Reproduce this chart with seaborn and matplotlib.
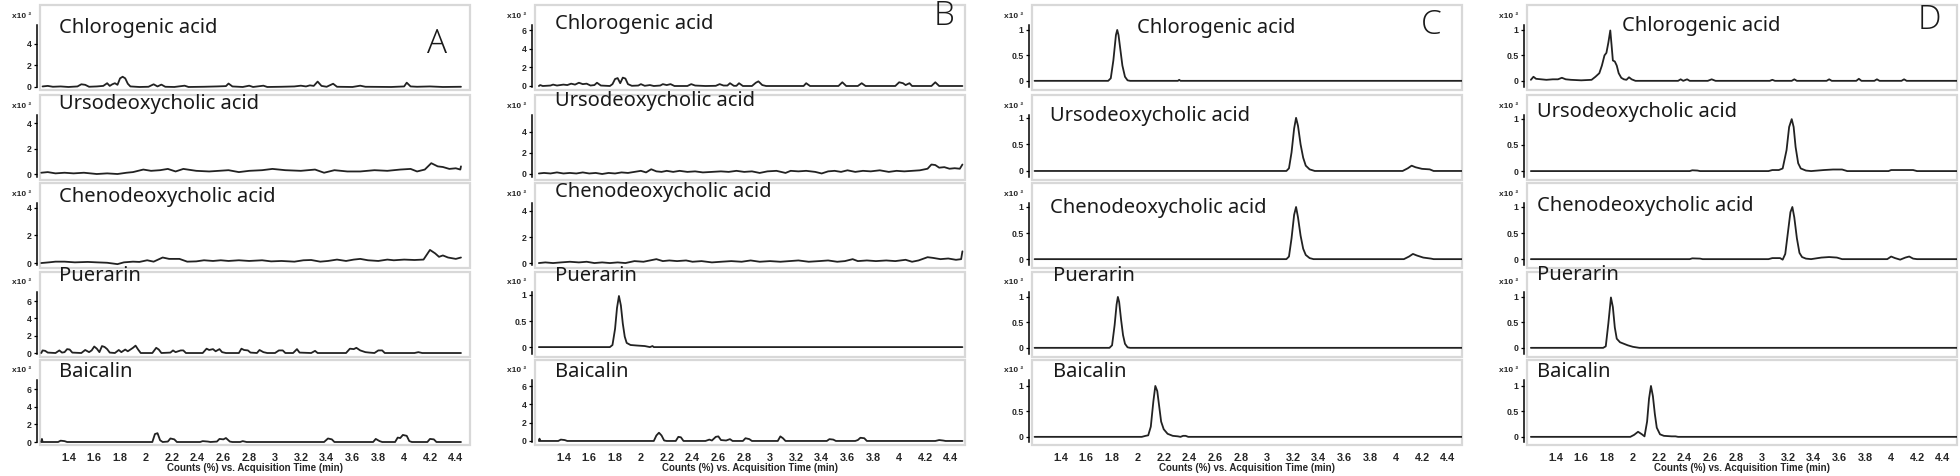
import numpy as np
import matplotlib
matplotlib.use("Agg")
import matplotlib.pyplot as plt
from matplotlib.patches import Rectangle
import seaborn as sns

# ---- data: (time in min, counts x10^2) ----
compounds = ["Chlorogenic acid", "Ursodeoxycholic acid", "Chenodeoxycholic acid", "Puerarin", "Baicalin"]
panel_letters = ["A", "B", "C", "D"]
x_ticks = [1.4, 1.6, 1.8, 2.0, 2.2, 2.4, 2.6, 2.8, 3.0, 3.2, 3.4, 3.6, 3.8, 4.0, 4.2, 4.4]

a_chloro = [(1.20,0.05),(1.24,0.1),(1.28,0.02),(1.34,0.05),(1.40,0.0),(1.47,0.05),(1.50,0.25),(1.53,0.2),(1.56,0.02),
            (1.62,0.05),(1.67,0.1),(1.70,0.35),(1.72,0.1),(1.74,0.25),(1.76,0.35),(1.78,0.2),(1.80,0.8),(1.82,0.95),
            (1.84,0.8),(1.86,0.3),(1.88,0.05),(1.95,0.0),(2.02,0.02),(2.06,0.25),(2.09,0.05),(2.12,0.22),(2.15,0.02),
            (2.22,0.0),(2.30,0.12),(2.33,0.0),(2.45,0.02),(2.55,0.05),(2.62,0.08),(2.64,0.32),(2.67,0.05),(2.75,0.0),
            (2.80,0.12),(2.83,0.0),(2.91,0.12),(2.94,0.0),(3.05,0.02),(3.15,0.05),(3.20,0.12),(3.24,0.05),(3.27,0.15),
            (3.30,0.1),(3.33,0.5),(3.36,0.1),(3.40,0.02),(3.45,0.3),(3.48,0.02),(3.60,0.0),(3.66,0.12),(3.70,0.02),
            (3.90,0.0),(4.00,0.05),(4.02,0.4),(4.05,0.05),(4.10,0.02),(4.20,0.05),(4.30,0.0),(4.44,0.02)]
a_urso = [(1.19,0.1),(1.24,0.15),(1.30,0.05),(1.37,0.1),(1.44,0.05),(1.52,0.1),(1.62,0.0),(1.70,0.05),(1.78,0.0),
          (1.85,0.1),(1.90,0.15),(1.98,0.35),(2.04,0.25),(2.11,0.3),(2.17,0.4),(2.23,0.2),(2.29,0.4),(2.39,0.25),
          (2.49,0.2),(2.64,0.3),(2.72,0.15),(2.80,0.25),(2.90,0.3),(2.98,0.4),(3.08,0.3),(3.20,0.25),(3.31,0.35),
          (3.38,0.1),(3.46,0.3),(3.56,0.2),(3.66,0.2),(3.77,0.3),(3.87,0.25),(3.97,0.35),(4.05,0.4),(4.10,0.2),
          (4.16,0.35),(4.21,0.85),(4.26,0.6),(4.30,0.55),(4.35,0.4),(4.40,0.45),(4.435,0.35),(4.44,0.6)]
a_cheno = [(1.19,0.0),(1.25,0.05),(1.30,0.1),(1.37,0.1),(1.45,0.05),(1.55,0.08),(1.62,0.05),(1.70,0.02),(1.78,-0.08),
           (1.83,0.05),(1.90,0.1),(1.95,0.08),(2.01,0.2),(2.06,0.1),(2.13,0.4),(2.18,0.3),(2.26,0.3),(2.32,0.1),
           (2.39,0.12),(2.45,0.2),(2.52,0.15),(2.58,0.2),(2.64,0.15),(2.72,0.2),(2.80,0.15),(2.90,0.2),(2.97,0.12),
           (3.05,0.15),(3.15,0.1),(3.22,0.2),(3.28,0.22),(3.35,0.1),(3.41,0.15),(3.48,0.25),(3.55,0.15),(3.61,0.25),
           (3.66,0.3),(3.72,0.2),(3.80,0.15),(3.87,0.25),(3.92,0.2),(4.00,0.25),(4.08,0.22),(4.15,0.25),(4.20,0.95),
           (4.24,0.7),(4.27,0.45),(4.30,0.55),(4.34,0.4),(4.40,0.3),(4.44,0.4)]
a_puer = [(1.19,0.0),(1.20,0.3),(1.22,0.25),(1.24,0.05),(1.30,0.0),(1.33,0.3),(1.35,0.05),(1.37,0.1),(1.39,0.45),
          (1.41,0.4),(1.43,0.05),(1.50,0.0),(1.53,0.35),(1.56,0.1),(1.58,0.3),(1.60,0.75),(1.62,0.5),(1.64,0.1),
          (1.66,0.8),(1.68,0.7),(1.70,0.45),(1.72,0.05),(1.76,0.0),(1.79,0.35),(1.81,0.1),(1.84,0.4),(1.86,0.2),
          (1.90,0.6),(1.92,0.85),(1.94,0.4),(1.96,0.0),(2.05,0.0),(2.08,0.6),(2.10,0.4),(2.12,0.0),(2.19,0.05),
          (2.21,0.3),(2.23,0.1),(2.27,0.3),(2.29,0.3),(2.31,0.0),(2.44,0.0),(2.47,0.5),(2.49,0.35),(2.52,0.45),
          (2.54,0.2),(2.57,0.45),(2.59,0.1),(2.62,0.0),(2.72,0.0),(2.74,0.5),(2.76,0.35),(2.79,0.3),(2.81,0.05),
          (2.86,0.0),(2.88,0.35),(2.91,0.1),(2.94,0.0),(3.00,0.0),(3.03,0.3),(3.06,0.3),(3.08,0.0),(3.14,0.0),
          (3.17,0.45),(3.19,0.05),(3.28,0.0),(3.31,0.25),(3.33,0.0),(3.55,0.0),(3.58,0.5),(3.61,0.45),(3.63,0.6),
          (3.66,0.3),(3.70,0.1),(3.73,0.05),(3.77,0.0),(3.80,0.3),(3.83,0.3),(3.85,0.0),(4.08,0.0),(4.11,0.1),
          (4.14,0.0),(4.44,0.0)]
a_baica = [(1.19,0.0),(1.195,0.35),(1.20,0.0),(1.32,0.0),(1.34,0.15),(1.37,0.1),(1.39,0.0),(2.05,0.0),(2.07,0.9),
           (2.09,1.0),(2.11,0.2),(2.13,0.0),(2.17,0.05),(2.19,0.4),(2.22,0.3),(2.24,0.0),(2.42,0.0),(2.44,0.1),
           (2.48,0.05),(2.50,0.0),(2.55,0.05),(2.57,0.35),(2.60,0.3),(2.62,0.45),(2.65,0.05),(2.67,0.0),(2.73,0.0),
           (2.75,0.1),(2.78,0.0),(3.38,0.0),(3.41,0.4),(3.44,0.3),(3.46,0.0),(3.76,0.0),(3.78,0.35),(3.81,0.1),
           (3.83,0.0),(3.93,0.0),(3.95,0.5),(3.97,0.45),(3.99,0.8),(4.02,0.7),(4.04,0.1),(4.06,0.0),(4.18,0.0),
           (4.20,0.35),(4.23,0.3),(4.25,0.0),(4.44,0.0)]

b_chloro = [(1.21,0.0),(1.22,0.1),(1.24,0.0),(1.30,0.05),(1.32,0.15),(1.35,0.05),(1.40,0.15),(1.43,0.1),(1.46,0.25),
            (1.49,0.15),(1.52,0.35),(1.55,0.2),(1.58,0.25),(1.61,0.05),(1.64,0.1),(1.66,0.35),(1.69,0.05),(1.76,0.0),
            (1.78,0.2),(1.80,0.75),(1.82,0.85),(1.84,0.3),(1.86,0.9),(1.88,0.8),(1.90,0.2),(1.93,0.02),(1.98,0.05),
            (2.00,0.2),(2.03,0.02),(2.07,0.1),(2.10,0.0),(2.15,0.05),(2.17,0.2),(2.20,0.1),(2.23,0.2),(2.26,0.0),
            (2.36,0.0),(2.39,0.2),(2.42,0.05),(2.50,0.0),(2.58,0.02),(2.61,0.2),(2.64,0.05),(2.67,0.05),(2.69,0.3),
            (2.72,0.02),(2.74,0.02),(2.76,0.3),(2.79,0.0),(2.86,0.0),(2.89,0.35),(2.91,0.5),(2.94,0.1),(2.97,0.0),
            (3.26,0.0),(3.28,0.3),(3.31,0.0),(3.53,0.0),(3.56,0.4),(3.59,0.0),(3.68,0.0),(3.71,0.3),(3.74,0.0),
            (3.97,0.0),(4.00,0.4),(4.03,0.3),(4.05,0.1),(4.08,0.3),(4.10,0.0),(4.25,0.0),(4.28,0.4),(4.31,0.0),
            (4.49,0.0)]
b_urso = [(1.21,0.05),(1.25,0.1),(1.30,0.05),(1.35,0.15),(1.40,0.05),(1.45,0.1),(1.50,0.05),(1.55,0.15),(1.60,0.05),
          (1.65,0.1),(1.70,0.0),(1.75,0.1),(1.80,0.05),(1.85,0.15),(1.90,0.1),(1.95,0.2),(2.00,0.3),(2.04,0.15),
          (2.08,0.45),(2.12,0.25),(2.16,0.2),(2.20,0.3),(2.25,0.2),(2.30,0.3),(2.36,0.2),(2.42,0.25),(2.48,0.15),
          (2.55,0.2),(2.62,0.25),(2.68,0.2),(2.74,0.3),(2.80,0.2),(2.86,0.25),(2.92,0.1),(2.98,0.25),(3.05,0.3),
          (3.12,0.1),(3.16,0.3),(3.22,0.25),(3.28,0.3),(3.35,0.2),(3.40,0.05),(3.45,0.25),(3.50,0.3),(3.55,0.2),
          (3.60,0.35),(3.66,0.2),(3.72,0.3),(3.78,0.25),(3.85,0.35),(3.92,0.2),(3.98,0.3),(4.04,0.25),(4.10,0.3),
          (4.16,0.35),(4.22,0.5),(4.25,0.9),(4.28,0.85),(4.31,0.6),(4.35,0.65),(4.39,0.5),(4.43,0.55),(4.47,0.5),
          (4.49,0.9)]
b_cheno = [(1.21,0.0),(1.26,0.05),(1.32,0.0),(1.38,0.05),(1.45,0.1),(1.52,0.05),(1.58,0.1),(1.64,0.0),(1.70,0.05),
           (1.76,0.0),(1.82,0.05),(1.88,0.0),(1.95,0.15),(2.02,0.1),(2.07,0.2),(2.12,0.3),(2.17,0.15),(2.22,0.2),
           (2.28,0.15),(2.35,0.2),(2.40,0.1),(2.47,0.15),(2.55,0.05),(2.62,0.1),(2.70,0.15),(2.78,0.1),(2.85,0.2),
           (2.92,0.1),(3.00,0.15),(3.08,0.1),(3.15,0.15),(3.22,0.2),(3.30,0.1),(3.38,0.15),(3.45,0.2),(3.52,0.1),
           (3.58,0.15),(3.64,0.3),(3.68,0.15),(3.75,0.2),(3.82,0.15),(3.90,0.2),(3.97,0.15),(4.05,0.25),(4.10,0.1),
           (4.15,0.2),(4.22,0.45),(4.26,0.4),(4.32,0.3),(4.38,0.35),(4.44,0.25),(4.48,0.3),(4.49,0.9)]
b_puer = [(1.21,0.0),(1.76,0.0),(1.78,0.04),(1.80,0.35),(1.815,0.75),(1.83,0.98),(1.845,0.8),(1.86,0.45),(1.875,0.2),
          (1.89,0.08),(1.92,0.04),(1.97,0.03),(2.03,0.02),(2.07,0.0),(2.09,0.02),(2.10,0.0),(4.49,0.0)]
b_baica = [(1.21,0.0),(1.215,0.25),(1.22,0.0),(1.36,0.0),(1.38,0.15),(1.41,0.1),(1.43,0.0),(2.10,0.0),(2.12,0.6),
           (2.14,0.9),(2.16,0.6),(2.18,0.05),(2.20,0.0),(2.27,0.0),(2.29,0.45),(2.31,0.4),(2.33,0.0),(2.50,0.0),
           (2.53,0.15),(2.55,0.05),(2.58,0.45),(2.60,0.5),(2.62,0.1),(2.66,0.05),(2.69,0.2),(2.71,0.0),(2.79,0.0),
           (2.81,0.3),(2.84,0.2),(2.86,0.0),(3.06,0.0),(3.08,0.5),(3.10,0.3),(3.12,0.0),(3.44,0.0),(3.46,0.2),
           (3.49,0.15),(3.51,0.0),(3.66,0.0),(3.68,0.1),(3.70,0.35),(3.73,0.3),(3.75,0.0),(4.28,0.0),(4.31,0.1),
           (4.34,0.05),(4.36,0.0),(4.49,0.0)]

c_chloro = [(1.20,0.0),(1.77,0.0),(1.79,0.05),(1.81,0.4),(1.83,0.9),(1.84,1.0),(1.85,0.9),(1.865,0.6),(1.88,0.3),
            (1.90,0.08),(1.92,0.01),(1.94,0.0),(2.31,0.0),(2.32,0.02),(2.33,0.0),(4.51,0.0)]
c_urso = [(1.20,0.0),(3.15,0.0),(3.17,0.05),(3.19,0.35),(3.21,0.8),(3.225,1.0),(3.24,0.85),(3.26,0.5),(3.28,0.25),
          (3.30,0.1),(3.33,0.03),(3.37,0.0),(4.05,0.0),(4.09,0.05),(4.12,0.1),(4.15,0.07),(4.20,0.04),(4.26,0.03),
          (4.29,0.0),(4.51,0.0)]
c_cheno = [(1.20,0.0),(3.15,0.0),(3.17,0.05),(3.19,0.4),(3.21,0.85),(3.225,1.0),(3.24,0.8),(3.26,0.45),(3.28,0.2),
           (3.30,0.08),(3.33,0.02),(3.36,0.0),(4.06,0.0),(4.10,0.05),(4.13,0.1),(4.16,0.07),(4.21,0.03),(4.27,0.01),
           (4.29,0.0),(4.51,0.0)]
c_puer = [(1.20,0.0),(1.78,0.0),(1.80,0.05),(1.82,0.45),(1.835,0.85),(1.845,1.0),(1.855,0.9),(1.87,0.55),(1.885,0.25),
          (1.90,0.08),(1.92,0.01),(1.94,0.0),(4.51,0.0)]
c_baica = [(1.20,0.0),(2.03,0.0),(2.06,0.02),(2.08,0.03),(2.10,0.2),(2.12,0.7),(2.135,1.0),(2.15,0.9),(2.165,0.6),
           (2.18,0.3),(2.20,0.15),(2.23,0.06),(2.27,0.02),(2.31,0.01),(2.33,0.0),(2.35,0.02),(2.37,0.02),(2.39,0.0),
           (4.51,0.0)]

d_chloro = [(1.21,0.02),(1.23,0.08),(1.25,0.04),(1.29,0.03),(1.33,0.02),(1.38,0.03),(1.42,0.03),(1.45,0.06),(1.48,0.03),
            (1.52,0.02),(1.60,0.01),(1.68,0.02),(1.71,0.08),(1.74,0.15),(1.76,0.3),(1.78,0.5),(1.795,0.55),(1.81,0.75),
            (1.825,0.99),(1.835,0.7),(1.845,0.4),(1.86,0.38),(1.875,0.3),(1.89,0.15),(1.91,0.06),(1.93,0.03),
            (1.95,0.02),(1.97,0.07),(1.99,0.03),(2.02,0.0),(2.35,0.0),(2.37,0.03),(2.39,0.0),(2.42,0.03),(2.44,0.0),
            (2.58,0.0),(2.61,0.03),(2.64,0.0),(3.06,0.0),(3.08,0.02),(3.10,0.0),(3.23,0.0),(3.25,0.03),(3.27,0.0),
            (3.50,0.0),(3.52,0.03),(3.54,0.0),(3.73,0.0),(3.75,0.04),(3.77,0.0),(3.87,0.0),(3.89,0.03),(3.91,0.0),
            (4.08,0.0),(4.10,0.03),(4.12,0.0),(4.51,0.0)]
d_urso = [(1.21,0.0),(2.44,0.0),(2.46,0.015),(2.50,0.01),(2.52,0.0),(3.05,0.0),(3.08,0.02),(3.13,0.02),(3.16,0.05),
          (3.19,0.4),(3.21,0.84),(3.23,0.99),(3.245,0.84),(3.26,0.46),(3.28,0.15),(3.30,0.05),(3.34,0.01),(3.38,0.0),
          (3.48,0.02),(3.55,0.03),(3.62,0.03),(3.66,0.0),(3.98,0.0),(4.00,0.02),(4.10,0.02),(4.17,0.02),(4.20,0.0),
          (4.51,0.0)]
d_cheno = [(1.21,0.0),(2.44,0.0),(2.46,0.015),(2.52,0.01),(2.54,0.0),(3.05,0.0),(3.08,0.02),(3.14,0.02),(3.16,-0.01),
           (3.18,0.1),(3.20,0.5),(3.22,0.9),(3.235,1.0),(3.25,0.8),(3.27,0.4),(3.29,0.12),(3.31,0.04),(3.34,0.01),
           (3.38,0.0),(3.46,0.03),(3.52,0.04),(3.58,0.03),(3.62,0.0),(3.97,0.0),(4.00,0.05),(4.03,0.02),(4.07,-0.01),
           (4.11,0.03),(4.14,0.05),(4.17,0.01),(4.20,0.0),(4.51,0.0)]
d_puer = [(1.21,0.0),(1.77,0.0),(1.79,0.03),(1.81,0.48),(1.83,0.99),(1.845,0.8),(1.86,0.4),(1.875,0.18),(1.90,0.11),
          (1.93,0.08),(1.96,0.05),(2.00,0.02),(2.05,0.0),(4.51,0.0)]
d_baica = [(1.21,0.0),(1.98,0.0),(2.01,0.04),(2.04,0.1),(2.07,0.05),(2.09,0.01),(2.11,0.3),(2.125,0.75),(2.14,1.0),
           (2.155,0.8),(2.17,0.45),(2.185,0.18),(2.21,0.05),(2.24,0.02),(2.30,0.01),(2.33,0.01),(2.35,0.0),(4.51,0.0)]

traces = [[a_chloro, a_urso, a_cheno, a_puer, a_baica],
          [b_chloro, b_urso, b_cheno, b_puer, b_baica],
          [c_chloro, c_urso, c_cheno, c_puer, c_baica],
          [d_chloro, d_urso, d_cheno, d_puer, d_baica]]

# y ticks shown on each trace
t4 = [0, 2, 4]
t6 = [0, 2, 4, 6]
t1 = [0, 0.5, 1]
y_ticks = [[t4, t4, t4, t6, t6],
           [t6, t4, t4, t1, t6],
           [t1, t1, t1, t1, t1],
           [t1, t1, t1, t1, t1]]

# ---- layout (pixels) ----
W, H = 1960, 476
panel_left = [40, 535, 1032, 1527]
panel_w = 430
row_top = [5, 95, 183, 272, 360]
row_h = 85
ylims = [[(-0.28, 7.6), (-0.47, 6.2), (-0.36, 5.8), (-0.46, 9.35), (-0.34, 9.3)],
         [(-0.43, 8.7), (-0.57, 7.5), (-0.38, 6.15), (-0.19, 1.44), (-0.44, 8.84)],
         [(-0.18, 1.49), (-0.17, 1.43), (-0.17, 1.46), (-0.18, 1.49), (-0.16, 1.51)],
         [(-0.18, 1.49), (-0.17, 1.45), (-0.17, 1.46), (-0.18, 1.49), (-0.16, 1.51)]]
name_dx = [[19, 19, 19, 19, 19], [20, 20, 20, 20, 20], [105, 18, 18, 21, 21], [95, 10, 10, 10, 10]]
name_y = [[0.67, 0.835, 0.78, 0.89, 0.80], [0.72, 0.87, 0.84, 0.89, 0.80],
          [0.67, 0.69, 0.65, 0.89, 0.80], [0.70, 0.74, 0.67, 0.90, 0.80]]
letter_pos = [(437, 44), (944, 16), (1431, 25), (1929, 20)]

sns.set_style("white")
plt.rcParams["font.family"] = ["Liberation Sans", "DejaVu Sans"]

fig = plt.figure(figsize=(W / 100, H / 100), dpi=100)
line_c = "#222222"
frame_c = "#d8d8d8"

for p in range(4):
    left = panel_left[p]
    for r in range(5):
        top = row_top[r]
        ax = fig.add_axes([left / W, 1 - (top + row_h) / H, panel_w / W, row_h / H])
        xs = [pt[0] for pt in traces[p][r]]
        ys = [pt[1] for pt in traces[p][r]]
        sns.lineplot(x=xs, y=ys, ax=ax, color=line_c, lw=1.3, estimator=None, sort=False)
        y0, y1 = ylims[p][r]
        ax.set_xlim(1.18, 4.51)
        ax.set_ylim(y0, y1)

        for s in ["top", "right", "bottom"]:
            ax.spines[s].set_visible(False)
        ax.add_patch(Rectangle((0, 0), 1, 1, transform=ax.transAxes, fill=False,
                               ec=frame_c, lw=1.6, clip_on=False, zorder=0))
        ax.spines["left"].set_position(("outward", 2.5))
        ax.spines["left"].set_color("black")
        ax.spines["left"].set_linewidth(1.1)
        rng = y1 - y0
        ax.spines["left"].set_bounds(y0 + 0.04 * rng, y1 - 0.235 * rng)

        yt = y_ticks[p][r]
        ax.set_yticks(yt, labels=[f"{v:g}" for v in yt], fontsize=6.3, fontweight="bold")
        ax.tick_params(axis="y", left=True, length=2.5, width=0.9, pad=1.2, color="black")

        ax.set_xticks(x_ticks)
        if r == 4:
            ax.set_xticklabels([f"{v:g}" for v in x_ticks], fontsize=7.8, fontweight="bold")
            ax.tick_params(axis="x", length=0, pad=5.5)
            ax.set_xlabel("Counts (%) vs. Acquisition Time (min)", fontsize=7,
                          fontweight="bold", labelpad=0.3)
        else:
            ax.set_xticklabels([])
            ax.tick_params(axis="x", length=0)

        ax.text(name_dx[p][r] / panel_w, name_y[p][r], compounds[r], transform=ax.transAxes,
                fontsize=14.5, family="Noto Sans", va="baseline", ha="left", color="#1a1a1a")

        fig.text((left - 8.5) / W, 1 - (top + 11) / H, "x10 ²", ha="right", va="center",
                 fontsize=6, fontweight="bold")

    lx, ly = letter_pos[p]
    fig.text(lx / W, 1 - ly / H, panel_letters[p], ha="center", va="center", fontsize=24,
             family="Open Sans", fontweight="light", color="#1a1a1a")

fig.savefig("out.png", dpi=100)
